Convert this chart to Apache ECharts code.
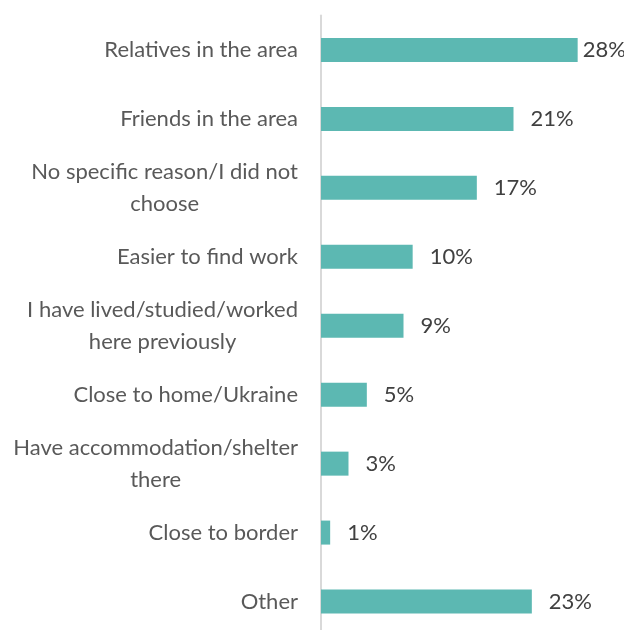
<!DOCTYPE html>
<html>
<head>
<meta charset="utf-8">
<script src="https://cdn.jsdelivr.net/npm/echarts@6/dist/echarts.min.js"></script>
<style>
  html, body { margin: 0; padding: 0; background: #ffffff; }
  #chart { width: 624px; height: 630px; }
</style>
</head>
<body>
<div id="chart"></div>
<script>
// Reasons for choosing the current location (share of respondents, %)
const categories = [
  'Relatives in the area',
  'Friends in the area',
  'No specific reason/I did not\nchoose',
  'Easier to find work',
  'I have lived/studied/worked\nhere previously',
  'Close to home/Ukraine',
  'Have accommodation/shelter\nthere',
  'Close to border',
  'Other'
];
const values = [28, 21, 17, 10, 9, 5, 3, 1, 23];

const FONT = 'Lato, "Open Sans", sans-serif';
const TEXT = '#595959';

const chart = echarts.init(document.getElementById('chart'), null, { renderer: 'canvas' });

// The longest bar's label sits closer to the bar end so it stays in view
const seriesData = values.map((v, i) => {
  const item = { value: v };
  if (v === Math.max(...values)) item.label = { distance: 5 };
  return item;
});

chart.setOption({
  animation: false,
  backgroundColor: '#ffffff',
  grid: {
    left: 321, right: 28, top: 15.5, height: 620.5,
    containLabel: false, outerBoundsMode: 'none'
  },
  xAxis: {
    type: 'value',
    min: 0,
    max: 30,
    show: false
  },
  yAxis: {
    type: 'category',
    inverse: true,
    data: categories,
    axisLine: { show: true, lineStyle: { color: '#d9d9d9', width: 2 } },
    axisTick: { show: false },
    splitLine: { show: false },
    axisLabel: {
      margin: 23,
      align: 'right',
      fontFamily: FONT,
      fontSize: 22,
      color: TEXT,
      formatter: v => v.split('\n').map(s => '{c|' + s + '}').join('\n'),
      rich: {
        c: { align: 'center', fontFamily: FONT, fontSize: 22, color: TEXT, lineHeight: 32 }
      }
    }
  },
  series: [{
    type: 'bar',
    data: seriesData,
    barWidth: 24,
    itemStyle: { color: '#5cb8b2' },
    label: {
      show: true,
      position: 'right',
      distance: 17,
      formatter: p => p.value + '%',
      fontFamily: FONT,
      fontSize: 22,
      color: '#404040'
    }
  }]
});
</script>
</body>
</html>
